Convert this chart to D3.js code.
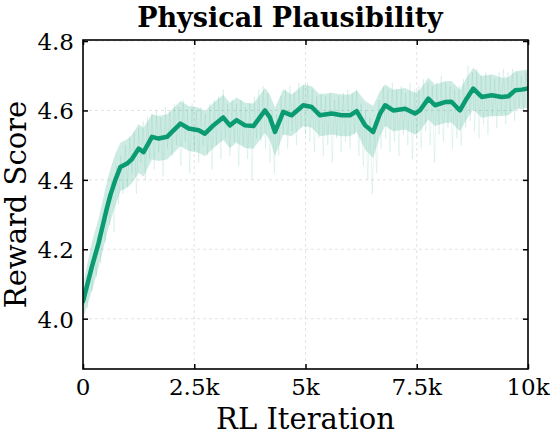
<!DOCTYPE html>
<html>
<head>
<meta charset="utf-8">
<script src="https://cdn.jsdelivr.net/npm/d3@7"></script>
<style>
  body { margin: 0; background: #fff; }
  text { font-family: "DejaVu Serif", serif; fill: #000; }
</style>
</head>
<body>
<div id="chart"></div>
<script>
// smoothed reward curve
var meanIters = [0, 100, 200, 350, 540, 615, 727, 840, 990, 1100, 1250, 1360, 1550, 1700, 1890,
  2000, 2190, 2375, 2600, 2740, 2930, 3150, 3300, 3450, 3640, 3830, 4090, 4200, 4315, 4500,
  4690, 4950, 5140, 5325, 5590, 5810, 6000, 6150, 6340, 6520, 6675, 6790, 6970, 7240, 7460,
  7570, 7760, 7910, 8135, 8280, 8470, 8620, 8770, 8960, 9185, 9410, 9560, 9710, 9860, 10000];
var meanVals = [4.05, 4.10, 4.15, 4.218, 4.32, 4.356, 4.40, 4.437, 4.447, 4.46, 4.49, 4.48, 4.524, 4.519, 4.524,
  4.538, 4.562, 4.548, 4.543, 4.533, 4.557, 4.58, 4.557, 4.572, 4.557, 4.555, 4.60, 4.58, 4.538, 4.596,
  4.586, 4.615, 4.61, 4.586, 4.591, 4.586, 4.586, 4.598, 4.557, 4.538, 4.591, 4.615, 4.60, 4.605, 4.591,
  4.60, 4.634, 4.615, 4.624, 4.625, 4.60, 4.634, 4.663, 4.639, 4.644, 4.639, 4.641, 4.658, 4.66, 4.663];
// spread of the shaded band around the curve
var bandStd = [0.05, 0.06, 0.07, 0.07, 0.075, 0.075, 0.075, 0.07, 0.07, 0.07, 0.07, 0.07, 0.065, 0.065, 0.065,
  0.065, 0.065, 0.065, 0.065, 0.065, 0.065, 0.065, 0.065, 0.065, 0.065, 0.065, 0.065, 0.065, 0.07, 0.065,
  0.06, 0.06, 0.06, 0.06, 0.06, 0.06, 0.06, 0.06, 0.07, 0.075, 0.065, 0.06, 0.06, 0.06, 0.06,
  0.06, 0.06, 0.06, 0.06, 0.06, 0.06, 0.06, 0.06, 0.06, 0.06, 0.055, 0.055, 0.055, 0.055, 0.055];
// raw (unsmoothed) reward, every 50 iterations
var rawIters = d3.range(0, 10001, 50);
var rawVals = [
  4.00, 4.09, 4.03, 4.15, 4.08, 4.19, 4.12, 4.24, 4.16, 4.29,
  4.22, 4.35, 4.27, 4.40, 4.25, 4.44, 4.33, 4.47, 4.36, 4.50,
  4.38, 4.52, 4.42, 4.54, 4.36, 4.55, 4.45, 4.57, 4.40, 4.58,
  4.46, 4.59, 4.43, 4.60, 4.48, 4.58, 4.41, 4.61, 4.49, 4.60,
  4.47, 4.62, 4.50, 4.61, 4.44, 4.63, 4.51, 4.60, 4.42, 4.62,
  4.49, 4.60, 4.45, 4.61, 4.50, 4.59, 4.47, 4.62, 4.43, 4.63,
  4.50, 4.64, 4.46, 4.66, 4.52, 4.62, 4.47, 4.63, 4.51, 4.62,
  4.44, 4.63, 4.50, 4.61, 4.46, 4.62, 4.40, 4.64, 4.52, 4.66,
  4.51, 4.67, 4.49, 4.65, 4.45, 4.60, 4.42, 4.59, 4.47, 4.64,
  4.53, 4.66, 4.49, 4.67, 4.54, 4.65, 4.50, 4.68, 4.55, 4.67,
  4.53, 4.68, 4.51, 4.66, 4.48, 4.64, 4.52, 4.65, 4.47, 4.64,
  4.50, 4.65, 4.45, 4.63, 4.52, 4.64, 4.48, 4.65, 4.51, 4.66,
  4.49, 4.65, 4.53, 4.66, 4.47, 4.62, 4.44, 4.60, 4.40, 4.58,
  4.36, 4.57, 4.42, 4.63, 4.49, 4.67, 4.52, 4.66, 4.48, 4.68,
  4.51, 4.66, 4.47, 4.67, 4.53, 4.65, 4.50, 4.68, 4.46, 4.66,
  4.52, 4.67, 4.49, 4.69, 4.54, 4.68, 4.50, 4.67, 4.45, 4.68,
  4.53, 4.70, 4.51, 4.68, 4.55, 4.67, 4.49, 4.66, 4.52, 4.67,
  4.50, 4.69, 4.55, 4.73, 4.57, 4.71, 4.54, 4.72, 4.52, 4.70,
  4.56, 4.71, 4.53, 4.70, 4.58, 4.69, 4.55, 4.71, 4.59, 4.72,
  4.56, 4.71, 4.60, 4.72, 4.57, 4.71, 4.61, 4.70, 4.60, 4.71,
  4.65];
var xTicks = [0, 2500, 5000, 7500, 10000];
var xTickLabels = ["0", "2.5k", "5k", "7.5k", "10k"];
var yTicks = [4.0, 4.2, 4.4, 4.6, 4.8];

var svgWidth = 552, svgHeight = 439;
var margin = {top: 40, right: 24, bottom: 70, left: 83};
var width = svgWidth - margin.left - margin.right;
var height = svgHeight - margin.top - margin.bottom;
var green = "#0a9b72";

var svg = d3.select("#chart").append("svg")
  .attr("width", svgWidth)
  .attr("height", svgHeight);

var chartGroup = svg.append("g")
  .attr("transform", `translate(${margin.left}, ${margin.top})`);

var xScale = d3.scaleLinear().domain([0, 10000]).range([0, width]);
var yScale = d3.scaleLinear().domain([3.855, 4.803]).range([height, 0]);

// dashed grid
chartGroup.append("g")
  .selectAll("line").data(xTicks.slice(1, -1)).enter().append("line")
  .attr("x1", d => xScale(d)).attr("x2", d => xScale(d))
  .attr("y1", 0).attr("y2", height)
  .attr("stroke", "#dcdcdc").attr("stroke-width", 0.8).attr("stroke-dasharray", "3,3");
chartGroup.append("g")
  .selectAll("line").data(yTicks).enter().append("line")
  .attr("x1", 0).attr("x2", width)
  .attr("y1", d => yScale(d)).attr("y2", d => yScale(d))
  .attr("stroke", "#dcdcdc").attr("stroke-width", 0.8).attr("stroke-dasharray", "3,3");

svg.append("clipPath").attr("id", "plotclip")
  .append("rect").attr("width", width).attr("height", height);
var plot = chartGroup.append("g").attr("clip-path", "url(#plotclip)");

// raw data, very faint
var rawData = rawIters.map((d, i) => ({x: d, y: rawVals[i]}));
plot.append("path")
  .datum(rawData)
  .attr("fill", "none")
  .attr("stroke", green)
  .attr("stroke-opacity", 0.12)
  .attr("stroke-width", 0.8)
  .attr("d", d3.line().x(d => xScale(d.x)).y(d => yScale(d.y)));

// smoothed curve with band
var meanData = meanIters.map((d, i) => ({x: d, y: meanVals[i], s: bandStd[i]}));
plot.append("path")
  .datum(meanData)
  .attr("fill", green)
  .attr("fill-opacity", 0.2)
  .attr("d", d3.area()
    .x(d => xScale(d.x))
    .y0(d => yScale(d.y - d.s))
    .y1(d => yScale(d.y + d.s)));

plot.append("path")
  .datum(meanData)
  .attr("fill", "none")
  .attr("stroke", green)
  .attr("stroke-width", 4.5)
  .attr("stroke-linejoin", "round")
  .attr("stroke-linecap", "round")
  .attr("d", d3.line().x(d => xScale(d.x)).y(d => yScale(d.y)));

// axes, ticks inward on all four sides
var bottomAxis = d3.axisBottom(xScale).tickValues(xTicks).tickSize(-5).tickFormat("");
var topAxis = d3.axisTop(xScale).tickValues(xTicks).tickSize(-5).tickFormat("");
var leftAxis = d3.axisLeft(yScale).tickValues(yTicks).tickSize(-5).tickFormat("");
var rightAxis = d3.axisRight(yScale).tickValues(yTicks).tickSize(-5).tickFormat("");

chartGroup.append("g").attr("transform", `translate(0, ${height})`).call(bottomAxis);
chartGroup.append("g").call(topAxis);
chartGroup.append("g").call(leftAxis);
chartGroup.append("g").attr("transform", `translate(${width}, 0)`).call(rightAxis);
chartGroup.selectAll(".domain").remove();
chartGroup.selectAll(".tick line").attr("stroke", "#000").attr("stroke-width", 1.5);

chartGroup.append("rect")
  .attr("width", width).attr("height", height)
  .attr("fill", "none").attr("stroke", "#000").attr("stroke-width", 1.6);

// tick labels
chartGroup.selectAll("text.xt").data(xTicks).enter().append("text")
  .attr("class", "xt")
  .attr("x", d => xScale(d))
  .attr("y", height + 26)
  .attr("text-anchor", "middle")
  .style("font-size", "23px")
  .text((d, i) => xTickLabels[i]);

chartGroup.selectAll("text.yt").data(yTicks).enter().append("text")
  .attr("class", "yt")
  .attr("x", -9)
  .attr("y", d => yScale(d) + 9)
  .attr("text-anchor", "end")
  .style("font-size", "23px")
  .text(d => d.toFixed(1));

// labels
svg.append("text")
  .attr("x", 290).attr("y", 27)
  .attr("text-anchor", "middle")
  .style("font-size", "27px")
  .style("font-weight", "bold")
  .text("Physical Plausibility");

svg.append("text")
  .attr("x", margin.left + width / 2).attr("y", 429)
  .attr("text-anchor", "middle")
  .style("font-size", "29px")
  .text("RL Iteration");

svg.append("text")
  .attr("transform", `translate(26, ${margin.top + height / 2}) rotate(-90)`)
  .attr("text-anchor", "middle")
  .style("font-size", "29px")
  .text("Reward Score");
</script>
</body>
</html>
